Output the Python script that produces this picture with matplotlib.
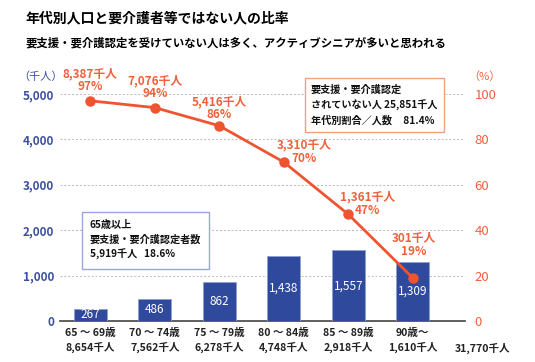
import matplotlib
matplotlib.use("Agg")
import matplotlib.pyplot as plt

plt.rcParams['font.family'] = ['Noto Sans CJK JP', 'DejaVu Sans']

# data
ages = ["65 ～ 69歳", "70 ～ 74歳", "75 ～ 79歳", "80 ～ 84歳", "85 ～ 89歳", "90歳～"]
population = ["8,654千人", "7,562千人", "6,278千人", "4,748千人", "2,918千人", "1,610千人"]
certified = [267, 486, 862, 1438, 1557, 1309]
not_cert_pct = [97, 94, 86, 70, 47, 19]
not_cert_num = ["8,387千人", "7,076千人", "5,416千人", "3,310千人", "1,361千人", "301千人"]
total_pop = "31,770千人"

BLUE = "#2f4a9c"
ORANGE = "#ef5430"
TXT_BLUE = "#3b4fa0"
TXT_OR = "#f0613c"

fig = plt.figure(figsize=(5.35, 3.62), dpi=100)
ax = fig.add_axes([60/535, 1-321/362, 405/535, 227/362])
x = list(range(len(ages)))

ax.bar(x, certified, width=0.51, color=BLUE, edgecolor="#8fa0cf", linewidth=0.6, zorder=3)
for xi, v in zip(x, certified):
    ax.text(xi, v/2, f"{v:,}", color="white", ha="center", va="center", fontsize=8.5, zorder=4)

ax.set_xlim(-0.47, 5.81)
ax.set_ylim(0, 5000)
ax.set_yticks([0, 1000, 2000, 3000, 4000, 5000])
ax.set_yticklabels(["0", "1,000", "2,000", "3,000", "4,000", "5,000"], color=TXT_BLUE,
                   fontweight="bold", fontsize=8.5)
ax.set_xticks(x)
ax.set_xticklabels([f"{a}\n{p}" for a, p in zip(ages, population)], fontsize=7.6,
                   color="#222222", linespacing=1.35, fontweight="bold")
ax.tick_params(length=0, pad=4)
ax.tick_params(axis="x", pad=5)
for s in ["left", "right", "top"]:
    ax.spines[s].set_visible(False)
ax.spines["bottom"].set_color("#444444")
ax.spines["bottom"].set_linewidth(1.2)
ax.grid(axis="y", linestyle=(0, (2, 2)), color="#bbbbbb", linewidth=0.7, zorder=0)

ax2 = ax.twinx()
ax2.set_ylim(0, 100)
ax2.set_yticks([0, 20, 40, 60, 80, 100])
ax2.set_yticklabels(["0", "20", "40", "60", "80", "100"], color=TXT_OR, fontsize=9.5)
ax2.tick_params(length=0, pad=7)
for s in ["left", "right", "top", "bottom"]:
    ax2.spines[s].set_visible(False)
ax2.plot(x, not_cert_pct, color=ORANGE, linewidth=2, marker="o", markersize=6.5, zorder=5)

offs = [(0, 14), (0, 14), (0, 11), (20, 4), (19, 4), (1, 26)]
for xi, p, n, (dx, dy) in zip(x, not_cert_pct, not_cert_num, offs):
    ax2.annotate(f"{p}%", (xi, p), xytext=(dx*0.72, dy*0.72), textcoords="offset points",
                 ha="center", va="center", color=TXT_OR, fontsize=8.5, fontweight="bold",
                 annotation_clip=False)
    ax2.annotate(n, (xi, p), xytext=(dx*0.72, (dy+13)*0.72), textcoords="offset points",
                 ha="center", va="center", color=TXT_OR, fontsize=8.5, fontweight="bold",
                 annotation_clip=False)

# titles
fig.text(25/535, 1-18/362, "年代別人口と要介護者等ではない人の比率", fontsize=10,
         fontweight="bold", va="center", ha="left")
fig.text(25/535, 1-43/362, "要支援・要介護認定を受けていない人は多く、アクティブシニアが多いと思われる",
         fontsize=8.2, fontweight="bold", va="center", ha="left")
fig.text(41/535, 1-77/362, "（千人）", fontsize=8, color=TXT_BLUE, va="center", ha="center")
fig.text(484/535, 1-77/362, "（%）", fontsize=8, color=TXT_OR, va="center", ha="center")
fig.text(483/535, 1-348/362, total_pop, fontsize=7.6, fontweight="bold", color="#222222",
         va="center", ha="center")

# info boxes
fig.text(311/535, 1-105/362,
         "要支援・要介護認定\nされていない人 25,851千人\n年代別割合／人数     81.4%",
         fontsize=7.3, fontweight="bold", va="center", ha="left", linespacing=1.55, color="#111111",
         bbox=dict(boxstyle="square,pad=0.6", facecolor="white", edgecolor="#f0a080", linewidth=1))
fig.text(90/535, 1-240/362,
         "65歳以上\n要支援・要介護認定者数\n5,919千人   18.6%",
         fontsize=7.3, fontweight="bold", va="center", ha="left", linespacing=1.55, color="#111111",
         bbox=dict(boxstyle="square,pad=0.8", facecolor="white", edgecolor="#9aa6d8", linewidth=1))

fig.savefig("out.png", dpi=100)
